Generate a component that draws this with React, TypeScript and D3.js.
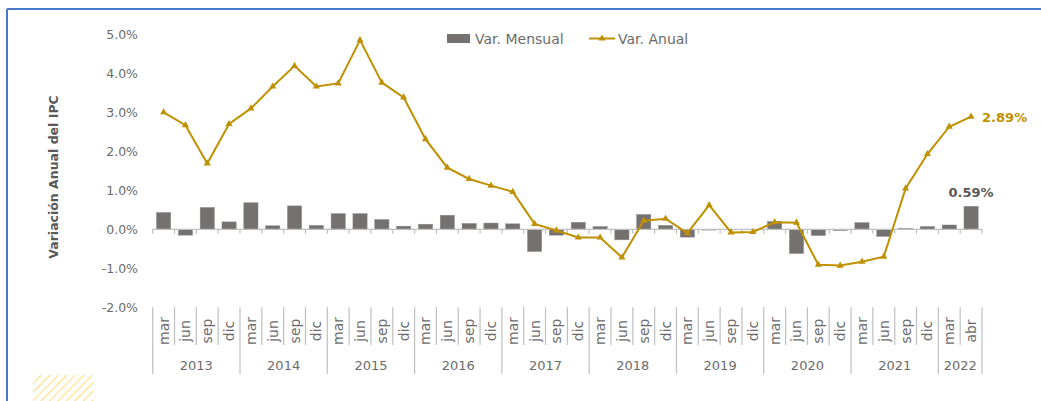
import React from 'react';
import * as d3 from 'd3';

// quarterly months per year, 2022 only goes up to april
const years = ['2013', '2014', '2015', '2016', '2017', '2018', '2019', '2020', '2021', '2022'];
const quarterMonths = ['mar', 'jun', 'sep', 'dic'];
const lastYearMonths = ['mar', 'abr'];

// Var. Mensual (%)
const mensual = [
  0.43, -0.15, 0.56, 0.19,
  0.68, 0.09, 0.6, 0.1,
  0.4, 0.4, 0.25, 0.08,
  0.13, 0.36, 0.15, 0.16,
  0.14, -0.57, -0.15, 0.18,
  0.07, -0.27, 0.38, 0.1,
  -0.2, -0.02, 0.0, -0.01,
  0.2, -0.62, -0.16, -0.03,
  0.17, -0.18, 0.02, 0.07,
  0.11, 0.59,
];

// Var. Anual (%)
const anual = [
  3.0, 2.67, 1.69, 2.7,
  3.1, 3.66, 4.19, 3.66,
  3.74, 4.85, 3.76, 3.38,
  2.31, 1.58, 1.29, 1.12,
  0.96, 0.14, -0.03, -0.21,
  -0.21, -0.72, 0.22, 0.27,
  -0.1, 0.62, -0.08, -0.07,
  0.18, 0.17, -0.91, -0.93,
  -0.83, -0.7, 1.05, 1.93,
  2.63, 2.89,
];

const yTicks = [5, 4, 3, 2, 1, 0, -1, -2];

const W = 1041;
const H = 401;
const FONT = "'DejaVu Sans', sans-serif";
const GOLD = '#bf9000';
const BAR = '#757171';
const TXT = '#6b6b6b';

type Cat = { key: string; year: string; month: string; first: boolean };

const cats: Cat[] = [];
years.forEach((yr) => {
  const months = yr === '2022' ? lastYearMonths : quarterMonths;
  months.forEach((m, i) => cats.push({ key: `${yr}-${m}`, year: yr, month: m, first: i === 0 }));
});

export default function App() {
  const x = d3.scaleBand<string>().domain(cats.map((c) => c.key)).range([152.7, 982]);
  const y = d3.scaleLinear().domain([-2, 5]).range([307.3, 34.3]);
  const bw = x.bandwidth() * 0.65;
  const cx = (k: string) => (x(k) ?? 0) + x.bandwidth() / 2;

  const line = d3
    .line<number>()
    .x((_, i) => cx(cats[i].key))
    .y((d) => y(d));

  const tri = d3.symbol().type(d3.symbolTriangle).size(22)();

  const y0 = y(0);
  const axisTop = y(-2);

  // year groups for bottom labels
  const yearGroups = years.map((yr) => {
    const cs = cats.filter((c) => c.year === yr);
    const start = x(cs[0].key) ?? 0;
    const end = (x(cs[cs.length - 1].key) ?? 0) + x.bandwidth();
    return { yr, start, end };
  });

  const last = cats.length - 1;

  return (
    <svg width={W} height={H} style={{ position: 'absolute', left: 0, top: 0, background: '#fff' }}>
      <defs>
        <pattern id="hatch" width="6" height="6" patternUnits="userSpaceOnUse" patternTransform="rotate(45)">
          <line x1="0" y1="0" x2="0" y2="6" stroke="#ffd966" strokeWidth="1.8" />
        </pattern>
      </defs>

      {/* frame */}
      <line x1={7} y1={9} x2={W} y2={9} stroke="#4a78c8" strokeWidth={2} />
      <line x1={7} y1={9} x2={7} y2={H} stroke="#4a78c8" strokeWidth={2} />
      <rect x={33} y={375} width={60} height={30} fill="url(#hatch)" />

      {/* y axis title */}
      <text
        transform="translate(58,177) rotate(-90)"
        textAnchor="middle"
        fontFamily={FONT}
        fontWeight="bold"
        fontSize={12.5}
        fill="#595959"
      >
        Variación Anual del IPC
      </text>

      {/* y tick labels */}
      {yTicks.map((t) => (
        <text key={t} x={138} y={y(t) + 4.5} textAnchor="end" fontFamily={FONT} fontSize={12.5} fill={TXT}>
          {t.toFixed(1)}%
        </text>
      ))}

      {/* bars */}
      {cats.map((c, i) => {
        const v = mensual[i];
        return (
          <rect
            key={c.key}
            x={cx(c.key) - bw / 2}
            y={Math.min(y(v), y0)}
            width={bw}
            height={Math.abs(y(v) - y0)}
            fill={BAR}
            stroke="#8c8888"
            strokeWidth={0.5}
          />
        );
      })}

      {/* zero axis with ticks */}
      <line x1={152.7} x2={982} y1={y0} y2={y0} stroke="#bfbfbf" strokeWidth={1.2} />
      {cats.map((c) => (
        <line key={c.key} x1={x(c.key)} x2={x(c.key)} y1={y0} y2={y0 + 4.5} stroke="#bfbfbf" strokeWidth={1.2} />
      ))}
      <line x1={982} x2={982} y1={y0} y2={y0 + 4.5} stroke="#bfbfbf" strokeWidth={1.2} />

      {/* annual line */}
      <path d={line(anual) ?? ''} fill="none" stroke={GOLD} strokeWidth={2} />
      {anual.map((v, i) => (
        <path key={i} d={tri ?? ''} transform={`translate(${cx(cats[i].key)},${y(v)})`} fill={GOLD} />
      ))}

      {/* end labels */}
      <text x={cx(cats[last].key) + 11} y={y(anual[last]) + 5} fontFamily={FONT} fontWeight="bold" fontSize={13} fill={GOLD}>
        {anual[last].toFixed(2)}%
      </text>
      <text
        x={cx(cats[last].key)}
        y={y(mensual[last]) - 9}
        textAnchor="middle"
        fontFamily={FONT}
        fontWeight="bold"
        fontSize={13}
        fill="#595959"
      >
        {mensual[last].toFixed(2)}%
      </text>

      {/* category separators and month labels */}
      {cats.map((c) => (
        <line
          key={'s' + c.key}
          x1={x(c.key)}
          x2={x(c.key)}
          y1={axisTop}
          y2={c.first ? 374 : 345}
          stroke="#bfbfbf"
          strokeWidth={1.2}
        />
      ))}
      <line x1={982} x2={982} y1={axisTop} y2={374} stroke="#bfbfbf" strokeWidth={1.2} />
      {cats.map((c) => (
        <text
          key={'m' + c.key}
          transform={`translate(${cx(c.key) + 5},331) rotate(-90)`}
          textAnchor="middle"
          fontFamily={FONT}
          fontSize={14}
          fill={TXT}
        >
          {c.month}
        </text>
      ))}
      {yearGroups.map((g) => (
        <text
          key={g.yr}
          x={(g.start + g.end) / 2}
          y={370}
          textAnchor="middle"
          fontFamily={FONT}
          fontSize={13}
          fill={TXT}
        >
          {g.yr}
        </text>
      ))}

      {/* legend */}
      <rect x={447} y={34} width={23} height={9} fill={BAR} />
      <text x={475} y={43.5} fontFamily={FONT} fontSize={14} fill={TXT}>
        Var. Mensual
      </text>
      <line x1={589} x2={615} y1={38.5} y2={38.5} stroke={GOLD} strokeWidth={2} />
      <path d={tri ?? ''} transform="translate(602,38.5)" fill={GOLD} />
      <text x={618} y={43.5} fontFamily={FONT} fontSize={14} fill={TXT}>
        Var. Anual
      </text>
    </svg>
  );
}
